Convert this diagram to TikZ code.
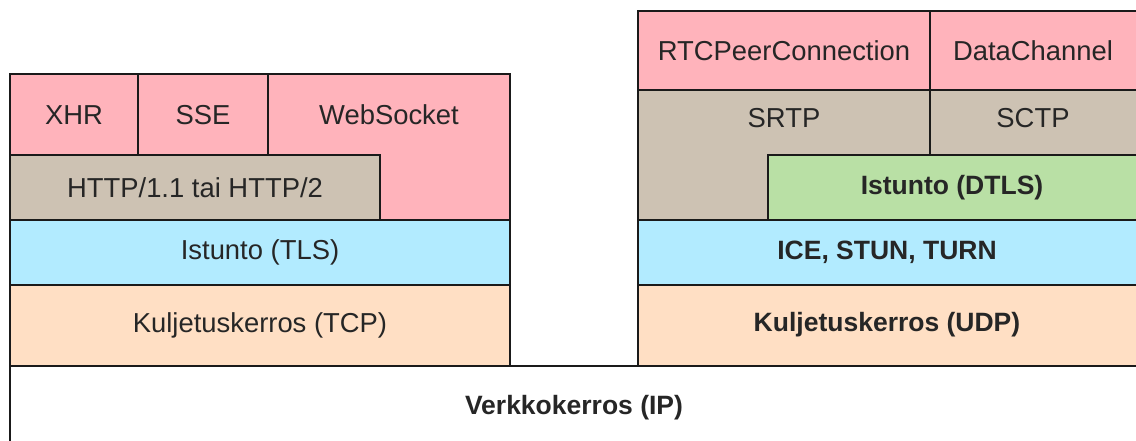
\documentclass[tikz,border=0pt]{standalone}
\usepackage{fontspec}
\setmainfont{Liberation Sans}
\definecolor{cpink}{HTML}{FFB3BB}
\definecolor{ctan}{HTML}{CDC2B3}
\definecolor{cblue}{HTML}{B2EBFF}
\definecolor{cgreen}{HTML}{B9E0A5}
\definecolor{cpeach}{HTML}{FFDFC4}
\definecolor{ctext}{HTML}{262626}
\definecolor{cline}{HTML}{1A1A1A}
\tikzset{
  layer/.style={draw=cline, line width=1.6pt, line join=miter},
  lbl/.style={text=ctext, font=\fontsize{27.4}{31}\selectfont, inner sep=0pt},
  blbl/.style={lbl, font=\fontsize{26.5}{31}\selectfont\bfseries},
}
\begin{document}
\begin{tikzpicture}[x=1pt,y=-1pt]
\useasboundingbox (0,0) rectangle (1136,441);
\clip (0,0) rectangle (1136,441);
% bottom network layer
\draw[layer, fill=white] (10,366) rectangle (1150,460);
\node[blbl] (ip) at (574,408) {Verkkokerros (IP)};
% left stack
\draw[layer, fill=cpeach] (10,285) rectangle (510,366);
\node[lbl] (tcp) at (260,325) {Kuljetuskerros (TCP)};
\draw[layer, fill=cblue] (10,220) rectangle (510,285);
\node[lbl] (tls) at (260,252) {Istunto (TLS)};
\draw[layer, fill=cpink] (268,74) -- (510,74) -- (510,220) -- (380,220) -- (380,155) -- (268,155) -- cycle;
\node[lbl] (ws) at (389,115) {WebSocket};
\draw[layer, fill=ctan] (10,155) rectangle (380,220);
\node[lbl] (http) at (195,188) {HTTP/1.1 tai HTTP/2};
\draw[layer, fill=cpink] (10,74) rectangle (138,155);
\node[lbl] (xhr) at (74,115) {XHR};
\draw[layer, fill=cpink] (138,74) rectangle (268,155);
\node[lbl] (sse) at (203,115) {SSE};
% right stack
\draw[layer, fill=cpeach] (638,285) rectangle (1150,366);
\node[blbl] (udp) at (887,325) {Kuljetuskerros (UDP)};
\draw[layer, fill=cblue] (638,220) rectangle (1150,285);
\node[blbl] (ice) at (887,252) {ICE, STUN, TURN};
\draw[layer, fill=cgreen] (768,155) rectangle (1150,220);
\node[blbl] (dtls) at (952,188) {Istunto (DTLS)};
\draw[layer, fill=ctan] (638,90) -- (930,90) -- (930,155) -- (768,155) -- (768,220) -- (638,220) -- cycle;
\node[lbl] (srtp) at (784,118) {SRTP};
\draw[layer, fill=ctan] (930,90) rectangle (1150,155);
\node[lbl] (sctp) at (1033,118) {SCTP};
\draw[layer, fill=cpink] (638,11) rectangle (930,90);
\node[lbl] (rtc) at (784,51) {RTCPeerConnection};
\draw[layer, fill=cpink] (930,11) rectangle (1150,90);
\node[lbl] (dc) at (1033,51) {DataChannel};
\end{tikzpicture}
\end{document}
